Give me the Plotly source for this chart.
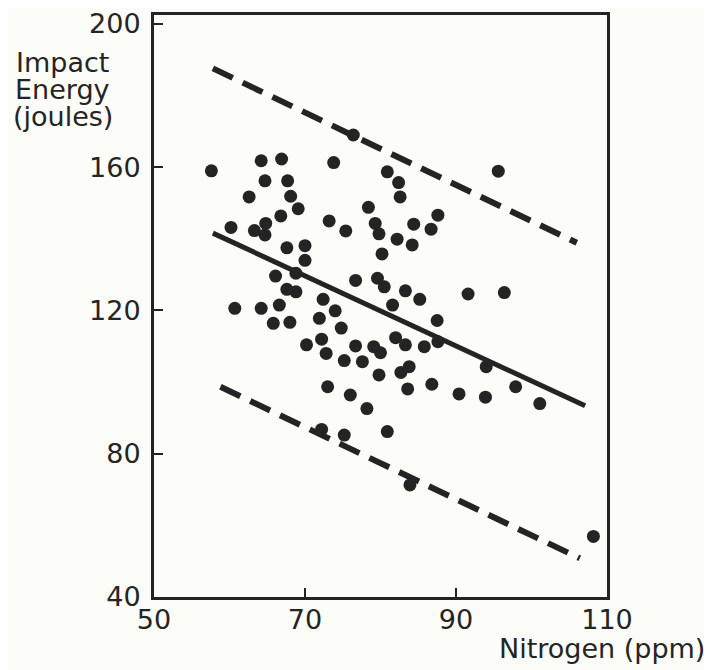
import plotly.graph_objects as go

# Scatter data: nitrogen (ppm) vs impact energy (joules)
nitrogen = [57.6, 64.2, 66.9, 73.8, 76.4, 64.7, 67.7, 62.6, 68.1, 69.1,
            66.8, 60.2, 63.3, 64.8, 64.7, 73.2, 75.4, 78.4, 79.3, 79.8,
            67.6, 70.0, 70.0, 80.9, 82.4, 82.6, 95.6, 84.4, 87.6, 86.7,
            82.2, 84.2, 80.2, 66.1, 68.8, 67.6, 68.8, 76.7, 79.6, 80.5,
            83.3, 85.2, 91.6, 96.4, 81.6, 87.5, 87.6, 85.8, 82.0, 83.3,
            79.1, 80.0, 83.8, 82.7, 79.8, 83.6, 86.8, 90.4, 93.9, 94.0,
            97.9, 101.1, 80.9, 78.2, 72.2, 75.2, 83.9, 108.2, 60.7, 64.2,
            66.6, 65.8, 68.0, 72.4, 74.0, 71.9, 74.8, 72.2, 70.2, 72.8,
            76.7, 75.2, 77.6, 73.0, 76.0]
energy = [159.0, 161.8, 162.3, 161.3, 169.0, 156.2, 156.2, 151.7, 151.9, 148.4,
          146.4, 143.2, 142.3, 144.3, 141.1, 145.0, 142.2, 148.8, 144.3, 141.4,
          137.5, 138.1, 134.0, 158.7, 155.7, 151.7, 158.9, 144.1, 146.6, 142.7,
          139.9, 138.3, 135.8, 129.6, 130.4, 125.9, 125.2, 128.4, 129.0, 126.6,
          125.5, 123.1, 124.6, 125.0, 121.5, 117.2, 111.3, 109.9, 112.4, 110.4,
          109.9, 108.2, 104.3, 102.7, 102.0, 98.1, 99.4, 96.7, 95.8, 104.3,
          98.7, 94.0, 86.2, 92.6, 86.8, 85.2, 71.3, 56.9, 120.6, 120.6,
          121.5, 116.4, 116.7, 123.1, 119.9, 117.8, 115.1, 112.0, 110.4, 108.0,
          110.1, 106.0, 105.7, 98.7, 96.4]

# Fitted line and bands (end points)
fit_x = [57.8, 107.1]
fit_y = [141.6, 93.4]
upper_x = [57.8, 106.0]
upper_y = [187.6, 138.9]
lower_x = [58.8, 106.4]
lower_y = [98.7, 50.8]

x_ticks = [50, 70, 90, 110]
y_ticks = [40, 80, 120, 160, 200]
y_title_lines = ["Impact", "Energy", "(joules)"]

ink = "#242424"
paper = "#fcfcf8"
font_family = "DejaVu Sans"

fig = go.Figure()

for bx, by in [(upper_x, upper_y), (lower_x, lower_y)]:
    fig.add_trace(go.Scatter(
        x=bx, y=by, mode="lines",
        line=dict(color=ink, width=6, dash="22px,11px"),
        hoverinfo="skip", showlegend=False,
    ))

fig.add_trace(go.Scatter(
    x=fit_x, y=fit_y, mode="lines",
    line=dict(color=ink, width=5),
    hoverinfo="skip", showlegend=False,
))

fig.add_trace(go.Scatter(
    x=nitrogen, y=energy, mode="markers",
    marker=dict(color=ink, size=13),
    showlegend=False,
))

# page body adds an 8px offset, so the figure is drawn 8px smaller
fig.update_layout(
    width=704, height=662,
    margin=dict(l=146, r=105, t=7, b=73),
    paper_bgcolor=paper,
    plot_bgcolor=paper,
    font=dict(family=font_family, color=ink, size=27),
    showlegend=False,
)

fig.update_xaxes(
    range=[50, 110],
    tickvals=x_ticks,
    ticks="inside", ticklen=9, tickwidth=2, tickcolor=ink,
    showline=True, linewidth=3, linecolor=ink, mirror=True,
    showgrid=False, zeroline=False, automargin=False,
    ticklabelstandoff=-3, ticklabeloverflow="allow",
    tickfont=dict(size=27, family=font_family, color=ink),
)

# the scanned frame sits a little above the 200 tick
fig.update_yaxes(
    range=[40, 202.5],
    tickvals=y_ticks,
    ticks="inside", ticklen=9, tickwidth=2, tickcolor=ink,
    showline=True, linewidth=3, linecolor=ink, mirror=True,
    showgrid=False, zeroline=False, automargin=False,
    ticklabelstandoff=5, ticklabeloverflow="allow",
    tickfont=dict(size=27, family=font_family, color=ink),
)

# Y title as three stacked lines, tighter than plotly's <br> spacing
for i, line in enumerate(y_title_lines):
    fig.add_annotation(
        text=line,
        xref="paper", yref="paper",
        x=-0.201, y=0.918 - 0.0465 * i, xanchor="center", yanchor="middle",
        showarrow=False,
        font=dict(size=27, family=font_family, color=ink),
    )

fig.add_annotation(
    text="Nitrogen (ppm)",
    xref="paper", yref="paper",
    x=1.221, y=-0.088, xanchor="right", yanchor="middle",
    showarrow=False,
    font=dict(size=27, family=font_family, color=ink),
)

fig.write_html("out.html")
